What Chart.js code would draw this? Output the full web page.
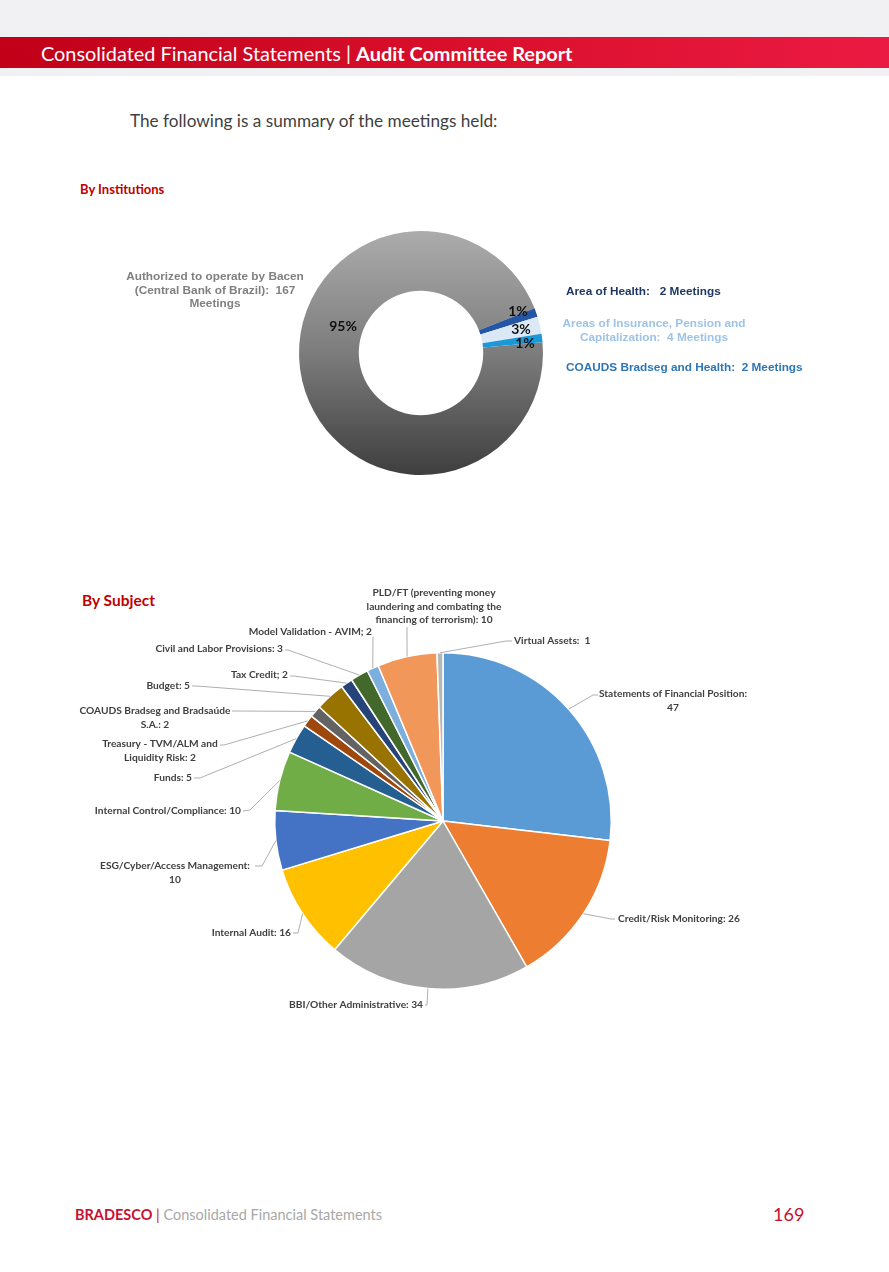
<!DOCTYPE html>
<html>
<head>
<meta charset="utf-8">
<script src="https://cdn.jsdelivr.net/npm/chart.js@4.4.1/dist/chart.umd.min.js"></script>
<style>
  html, body { margin: 0; padding: 0; background: #fff; }
  body { width: 889px; height: 1272px; position: relative; overflow: hidden; font-family: Lato, "Open Sans", sans-serif; }
  .topgray { position: absolute; left: 0; top: 0; width: 889px; height: 76px; background: #f1f1f3; }
  .bar { position: absolute; left: 0; top: 37px; width: 889px; height: 31px;
         background: linear-gradient(90deg, #c10018 0%, #d80f2b 50%, #eb1a42 100%); }
  .bar span { position: absolute; left: 41px; top: 4px; color: #fff; font-size: 19.9px; white-space: nowrap; }
  .bar b { font-weight: 700; }
  .intro { position: absolute; left: 130px; top: 110px; font-size: 17.2px; color: #3f3f3f; }
  .h1 { position: absolute; left: 80px; top: 181px; font-size: 13px; font-weight: 700; color: #c00000; }
  .h2 { position: absolute; left: 82px; top: 591px; font-size: 15.5px; font-weight: 700; color: #c00000; }
  canvas { position: absolute; }
  .foot { position: absolute; left: 75px; top: 1206px; font-size: 14.5px; color: #a8a8a8; white-space: nowrap; }
  .foot b { color: #c8102e; font-weight: 700; }
  .page { position: absolute; left: 773px; top: 1203px; font-size: 18px; color: #c8102e; }
</style>
</head>
<body>
<div class="topgray"></div>
<div class="bar"><span>Consolidated Financial Statements | <b>Audit Committee Report</b></span></div>
<div class="intro">The following is a summary of the meetings held:</div>
<div class="h1">By Institutions</div>
<div class="h2">By Subject</div>
<div style="position:absolute;left:60px;top:170px;width:780px;height:330px"><canvas id="instChart"></canvas></div>
<div style="position:absolute;left:60px;top:570px;width:780px;height:450px"><canvas id="subjChart"></canvas></div>
<div class="foot"><b>BRADESCO</b> <span style="color:#c8102e">|</span> Consolidated Financial Statements</div>
<div class="page">169</div>

<script>
// By Institutions
const instLabels = [
  'Authorized to operate by Bacen\n(Central Bank of Brazil):  167\nMeetings',
  'Area of Health:   2 Meetings',
  'Areas of Insurance, Pension and\nCapitalization:  4 Meetings',
  'COAUDS Bradseg and Health:  2 Meetings'
];
const instValues = [167, 2, 4, 2];
const instPct = ['95%', '1%', '3%', '1%'];
const instColors = ['#8c8c8c', '#2456a4', '#dbe8f6', '#1b98d8'];
const instTextColors = ['#808080', '#1f3864', '#9dc3e6', '#2e75b6'];

// By Subject
const subjLabels = [
  'Statements of Financial Position:\n47',
  'Credit/Risk Monitoring: 26',
  'BBI/Other Administrative: 34',
  'Internal Audit: 16',
  'ESG/Cyber/Access Management:\n10',
  'Internal Control/Compliance: 10',
  'Funds: 5',
  'Treasury - TVM/ALM and\nLiquidity Risk: 2',
  'COAUDS Bradseg and Bradsaúde\nS.A.: 2',
  'Budget: 5',
  'Tax Credit; 2',
  'Civil and Labor Provisions: 3',
  'Model Validation - AVIM; 2',
  'PLD/FT (preventing money\nlaundering and combating the\nfinancing of terrorism): 10',
  'Virtual Assets:  1'
];
const subjValues = [47, 26, 34, 16, 10, 10, 5, 2, 2, 5, 2, 3, 2, 10, 1];
const subjColors = ['#5b9bd5', '#ed7d31', '#a5a5a5', '#ffc000', '#4472c4', '#70ad47', '#255e91',
  '#9e480e', '#636363', '#997300', '#264478', '#43682b', '#7cafdd', '#f1975a', '#b7b7b7'];

// label placement, offsets from the pie centre: text [x, y, align], leader [elbowX, elbowY, endX, endY]
const instTextPos = [[-206, -76, 'center'], [145, -61, 'left'], [233, -29, 'center'], [145, 15, 'left']];
const instPctPos = [[-78, -27], [97, -42], [100, -24], [104, -10]];
const subjTextPos = [
  [230, -127, 'center'], [175, 98, 'left'], [-20, 184, 'right'], [-152, 112, 'right'],
  [-268, 45, 'center'], [-202, -10, 'right'], [-251, -43, 'right'], [-283, -77, 'center'],
  [-288, -110, 'center'], [-253, -135, 'right'], [-155, -146, 'right'], [-160, -172, 'right'],
  [-71, -189, 'right'], [-9, -228, 'center'], [71, -180, 'left']
];
const subjLeader = [
  [150, -126, 155, -126], [168, 98, 172, 98], [-16, 184, -18, 184], [-145, 112, -150, 112],
  [-181, 45, -188, 45], [-193, -11, -200, -10], [-243, -43, -249, -43], [-219, -76, -223, -76],
  [-207, -110, -211, -110], [-246, -135, -251, -135], [-149, -145, -153, -145], [-155, -171, -158, -171],
  [-70, -184, -70, -184], [-36, -194, -36, -194], [63, -180, 69, -180]
];

function drawLines(ctx, text, x, y, align, lh) {
  ctx.textAlign = align;
  text.split('\n').forEach((line, i) => ctx.fillText(line, x, y + i * lh));
}

const instLabelPlugin = {
  id: 'instLabels',
  afterDatasetsDraw(chart) {
    const ctx = chart.ctx;
    const arc0 = chart.getDatasetMeta(0).data[0];
    const cx = arc0.x, cy = arc0.y;
    ctx.save();
    ctx.textBaseline = 'middle';
    ctx.font = 'bold 11.8px "Liberation Sans", Arial, sans-serif';
    instLabels.forEach((t, i) => {
      ctx.fillStyle = instTextColors[i];
      drawLines(ctx, t, cx + instTextPos[i][0], cy + instTextPos[i][1], instTextPos[i][2], 13.5);
    });
    ctx.fillStyle = '#111';
    ctx.font = 'bold 14px Lato, sans-serif';
    ctx.textAlign = 'center';
    instPct.forEach((p, i) => ctx.fillText(p, cx + instPctPos[i][0], cy + instPctPos[i][1]));
    ctx.restore();
  }
};

const subjLabelPlugin = {
  id: 'subjLabels',
  afterDatasetsDraw(chart) {
    const ctx = chart.ctx;
    const arcs = chart.getDatasetMeta(0).data;
    const cx = arcs[0].x, cy = arcs[0].y;
    ctx.save();
    ctx.strokeStyle = '#a6a6a6';
    ctx.lineWidth = 0.9;
    ctx.fillStyle = '#404040';
    ctx.font = 'bold 10.2px Lato, sans-serif';
    ctx.textBaseline = 'middle';
    arcs.forEach((arc, i) => {
      const mid = (arc.startAngle + arc.endAngle) / 2;
      const sx = cx + Math.cos(mid) * arc.outerRadius;
      const sy = cy + Math.sin(mid) * arc.outerRadius;
      const l = subjLeader[i];
      ctx.beginPath();
      ctx.moveTo(sx, sy);
      ctx.lineTo(cx + l[0], cy + l[1]);
      ctx.lineTo(cx + l[2], cy + l[3]);
      ctx.stroke();
      const p = subjTextPos[i];
      drawLines(ctx, subjLabels[i], cx + p[0], cy + p[1], p[2], 13.5);
    });
    ctx.restore();
  }
};

new Chart(document.getElementById('instChart'), {
  type: 'doughnut',
  data: {
    labels: instLabels,
    datasets: [{
      data: instValues,
      backgroundColor: function (context) {
        if (context.dataIndex !== 0) return instColors[context.dataIndex];
        const a = context.chart.chartArea;
        if (!a) return instColors[0];
        const g = context.chart.ctx.createLinearGradient(0, a.top, 0, a.bottom);
        g.addColorStop(0, '#acacac');
        g.addColorStop(0.5, '#7c7c7c');
        g.addColorStop(1, '#3e3e3e');
        return g;
      },
      borderWidth: 0
    }]
  },
  options: {
    responsive: true,
    maintainAspectRatio: false,
    animation: false,
    rotation: 85,
    cutout: '51%',
    layout: { padding: { top: 61, bottom: 25, left: 239, right: 297 } },
    plugins: { legend: { display: false }, tooltip: { enabled: false } }
  },
  plugins: [instLabelPlugin]
});

new Chart(document.getElementById('subjChart'), {
  type: 'pie',
  data: {
    labels: subjLabels,
    datasets: [{
      data: subjValues,
      backgroundColor: subjColors,
      borderColor: '#ffffff',
      borderWidth: 1.5
    }]
  },
  options: {
    responsive: true,
    maintainAspectRatio: false,
    animation: false,
    layout: { padding: { top: 82, bottom: 30, left: 214, right: 228 } },
    plugins: { legend: { display: false }, tooltip: { enabled: false } }
  },
  plugins: [subjLabelPlugin]
});
</script>
</body>
</html>
